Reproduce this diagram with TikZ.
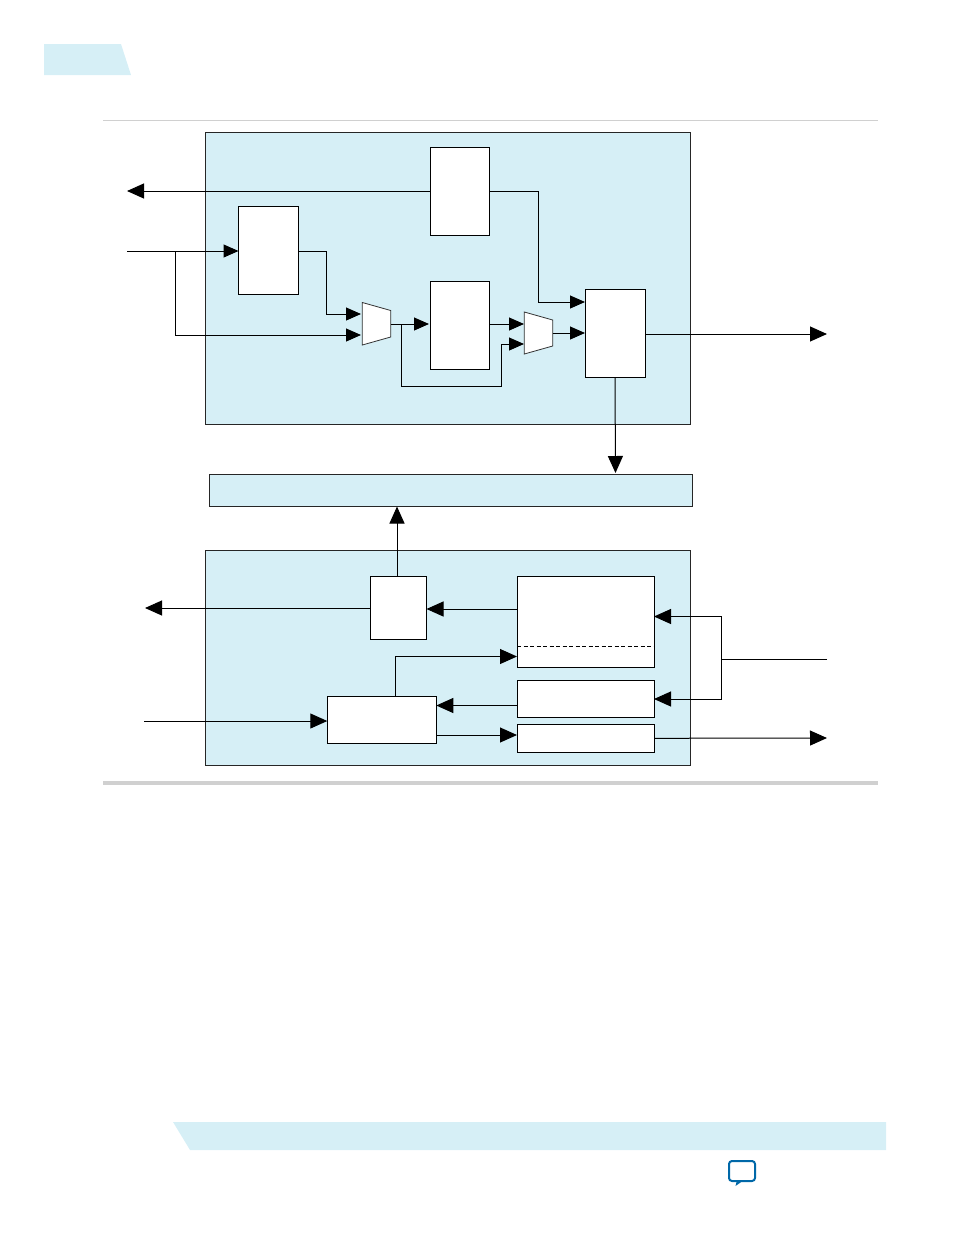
\documentclass[tikz,border=0pt]{standalone}
\usepackage{tikz}
\usetikzlibrary{arrows.meta,positioning,calc}
\definecolor{panelblue}{HTML}{D6EFF6}
\definecolor{rulegray}{HTML}{D0D0D0}
\definecolor{iconblue}{HTML}{0068A8}
\tikzset{
  panel/.style={draw=black!85, rectangle, fill=panelblue, line width=0.9pt, outer sep=0pt, inner sep=0pt},
  blk/.style={draw, rectangle, fill=white, line width=1pt, outer sep=0pt, inner sep=0pt},
  mux/.style={draw=black!80, fill=white, line width=0.8pt},
  wire/.style={line width=1pt},
  arr/.style={line width=1pt, -{Triangle[length=15pt,width=13pt]}},
  bigarr/.style={line width=1pt, -{Triangle[length=17pt,width=15pt]}},
}
\begin{document}
\begin{tikzpicture}[x=1pt,y=-1pt]
\useasboundingbox (0,0) rectangle (954,1235);
% page furniture
\fill[panelblue] (44,44) -- (121,44) -- (131,75) -- (44,75) -- cycle;
\fill[panelblue] (173,1122) -- (886,1122) -- (886,1150) -- (190,1150) -- cycle;
\draw[rulegray, line width=1pt] (103,120.5) -- (878,120.5);
\draw[rulegray, line width=4pt] (103,783) -- (878,783);
\draw[iconblue, line width=2pt, rounded corners=3pt] (729,1161) rectangle (755,1181);
\fill[iconblue] (737,1180) -- (744,1180) -- (735.5,1186) -- cycle;
% panels
\node[panel, minimum width=485pt, minimum height=292pt] (upper) at (447.5,278) {};
\node[panel, minimum width=483pt, minimum height=32pt] (bar) at (450.5,490.5) {};
\node[panel, minimum width=485pt, minimum height=215pt] (lower) at (447.5,657.5) {};
% upper blocks
\node[blk, minimum width=59pt, minimum height=88pt] (topblk) at (459.5,191) {};
\node[blk, minimum width=60pt, minimum height=88pt] (inblk) at (268,250) {};
\node[blk, minimum width=59pt, minimum height=88pt] (midblk) at (459.5,325) {};
\node[blk, minimum width=60pt, minimum height=88pt] (outblk) at (615,333) {};
\draw[mux] (362.3,302.5) -- (390.7,310.5) -- (390.7,337) -- (362.3,345) -- cycle;
\draw[mux] (524.3,312) -- (552.7,320) -- (552.7,346) -- (524.3,354) -- cycle;
% lower blocks
\node[blk, minimum width=56pt, minimum height=63pt] (sel) at (398.5,608) {};
\node[blk, minimum width=137pt, minimum height=91pt] (mem) at (585.5,621.5) {};
\node[blk, minimum width=137pt, minimum height=36.5pt] (memb) at (585.5,699) {};
\node[blk, minimum width=137pt, minimum height=28pt] (memc) at (585.5,738.3) {};
\node[blk, minimum width=109pt, minimum height=47pt] (ctl) at (381.8,719.8) {};
\draw[line width=0.9pt, dash pattern=on 4pt off 2.5pt] (mem.west |- 0,646.3) -- (mem.east |- 0,646.3);
% free ends and tap points
\coordinate (outl) at (127,191);
\coordinate (inl) at (127,251);
\coordinate (tap) at (175,251);
\coordinate (ma) at (361,314);
\coordinate (mb) at (361,335);
\coordinate (mc) at (524,324);
\coordinate (md) at (524,344);
\coordinate (fb) at (401,324);
\coordinate (muxaout) at (390.7,324);
\coordinate (muxbout) at (552.7,333);
\coordinate (oute) at (827,334);
\coordinate (lout) at (145,608);
\coordinate (lin) at (144,721);
\coordinate (rin) at (827,659.5);
\coordinate (fork) at (721,659.5);
\coordinate (rout) at (827,738);
% upper connectors
\draw[bigarr] (topblk.west) -- (outl);
\draw[arr] (inl) -- (238.5,251);
\draw[arr] (tap) -- (tap |- mb) -- (mb);
\draw[arr] (inblk.east |- inl) -| (326,314) -- (ma);
\draw[arr] (muxaout) -- (429,324);
\draw[arr] (fb) -- (401,386) -- (501,386) -- (501,344) -- (md);
\draw[arr] (midblk.east |- mc) -- (mc);
\draw[arr] (muxbout) -- (outblk.west);
\draw[arr] (topblk.east) -- (538,191) -- (538,302) -- (outblk.west |- 0,302);
\draw[bigarr] (outblk.east |- oute) -- (oute);
\draw[bigarr] (outblk.south) -- (615.5,473);
% lower connectors
\draw[bigarr] (397,576) -- (397,506.5);
\draw[bigarr] (sel.west) -- (lout);
\draw[bigarr] (mem.west |- 0,609) -- (sel.east |- 0,609);
\draw[bigarr] (395,696.3) -- (395,656.5) -- (mem.west |- 0,656.5);
\draw[bigarr] (memb.west |- 0,705.5) -- (ctl.east |- 0,705.5);
\draw[bigarr] (ctl.east |- 0,735) -- (memc.west |- 0,735);
\draw[bigarr] (lin) -- (lin -| ctl.west);
\draw[wire] (rin) -- (fork);
\draw[bigarr] (fork) -- (721,616.5) -- (mem.east |- 0,616.5);
\draw[bigarr] (fork) -- (721,699) -- (memb.east |- 0,699);
\draw[bigarr] (memc.east) -- (rout);
\end{tikzpicture}
\end{document}
